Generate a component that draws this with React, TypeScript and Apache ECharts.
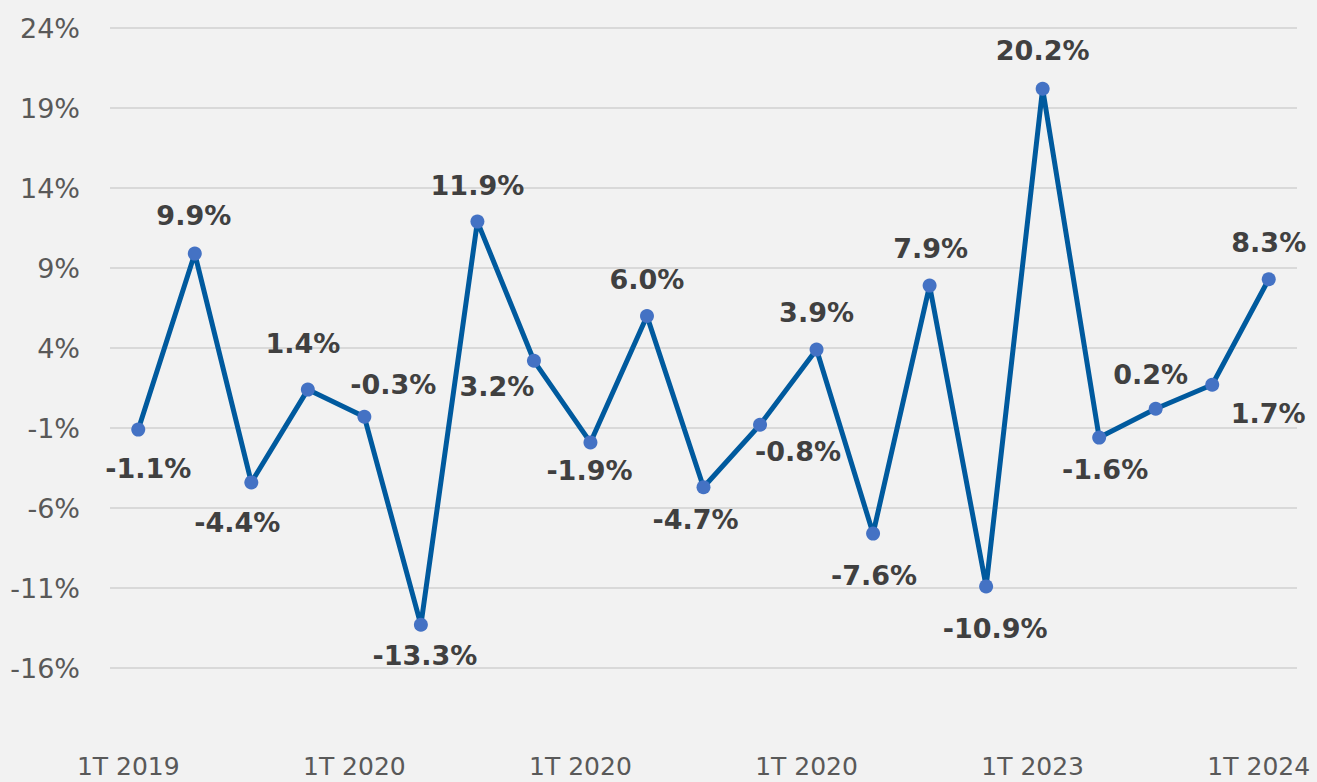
import React, { useEffect, useRef } from "react";
import * as echarts from "echarts";

const categories = [
  "1T 2019", "2T 2019", "3T 2019", "4T 2019",
  "1T 2020", "2T 2020", "3T 2020", "4T 2020",
  "1T 2020", "2T 2021", "3T 2021", "4T 2021",
  "1T 2020", "2T 2022", "3T 2022", "4T 2022",
  "1T 2023", "2T 2023", "3T 2023", "4T 2023",
  "1T 2024",
];

const values = [
  -1.1, 9.9, -4.4, 1.4, -0.3, -13.3, 11.9, 3.2, -1.9, 6.0, -4.7,
  -0.8, 3.9, -7.6, 7.9, -10.9, 20.2, -1.6, 0.2, 1.7, 8.3,
];

const yTicks = [-16, -11, -6, -1, 4, 9, 14, 19, 24];

// label offsets (px) relative to each point's centre
const labelOffsets: [number, number][] = [
  [10, 39], [-1, -38], [-14, 40], [-5, -46], [29, -32], [4, 31], [0, -36],
  [-37, 26], [-1, 28], [0, -37], [-8, 32], [38, 27], [0, -37], [1, 42],
  [1, -37], [9, 42], [0, -38], [6, 32], [-5, -34], [56, 29], [0, -37],
];

export default function App() {
  const ref = useRef<HTMLDivElement>(null);
  useEffect(() => {
    if (!ref.current) return;
    document.body.style.margin = "0";
    const chart = echarts.init(ref.current, undefined, { renderer: "svg" });
    chart.setOption({
      animation: false,
      backgroundColor: "#f2f2f2",
      grid: { left: 110, right: 20, top: 28, bottom: 34, containLabel: false },
      xAxis: {
        type: "category",
        data: categories,
        boundaryGap: true,
        axisLine: { show: false },
        axisTick: { show: false },
        axisLabel: {
          interval: 3,
          margin: 6,
          color: "#595959",
          fontSize: 25,
          fontFamily: "DejaVu Sans",
          verticalAlign: "top",
          padding: [0, 20, 0, 0],
        },
        splitLine: { show: false },
      },
      yAxis: {
        type: "value",
        min: -21,
        max: 24,
        axisLine: { show: false },
        axisTick: { show: false, customValues: yTicks },
        axisLabel: {
          customValues: yTicks,
          margin: 30,
          color: "#595959",
          fontSize: 27,
          fontFamily: "DejaVu Sans",
          formatter: (v: number) => `${v}%`,
        },
        splitLine: {
          show: true,
          customValues: yTicks,
          lineStyle: { color: "#d9d9d9", width: 2 },
        },
      },
      series: [
        {
          type: "line",
          data: values.map((v, i) => ({
            value: v,
            label: { offset: labelOffsets[i] },
          })),
          symbol: "circle",
          symbolSize: 14,
          lineStyle: { color: "#005a9e", width: 5 },
          itemStyle: { color: "#4472c4" },
          label: {
            show: true,
            position: "inside",
            color: "#404040",
            fontSize: 27,
            fontWeight: "bold",
            fontFamily: "DejaVu Sans",
            formatter: (p: any) => `${p.value.toFixed(1)}%`,
          },
        },
      ],
    });
    return () => chart.dispose();
  }, []);
  return (
    <div
      ref={ref}
      style={{ position: "fixed", left: 0, top: 0, width: 1317, height: 782 }}
    />
  );
}
